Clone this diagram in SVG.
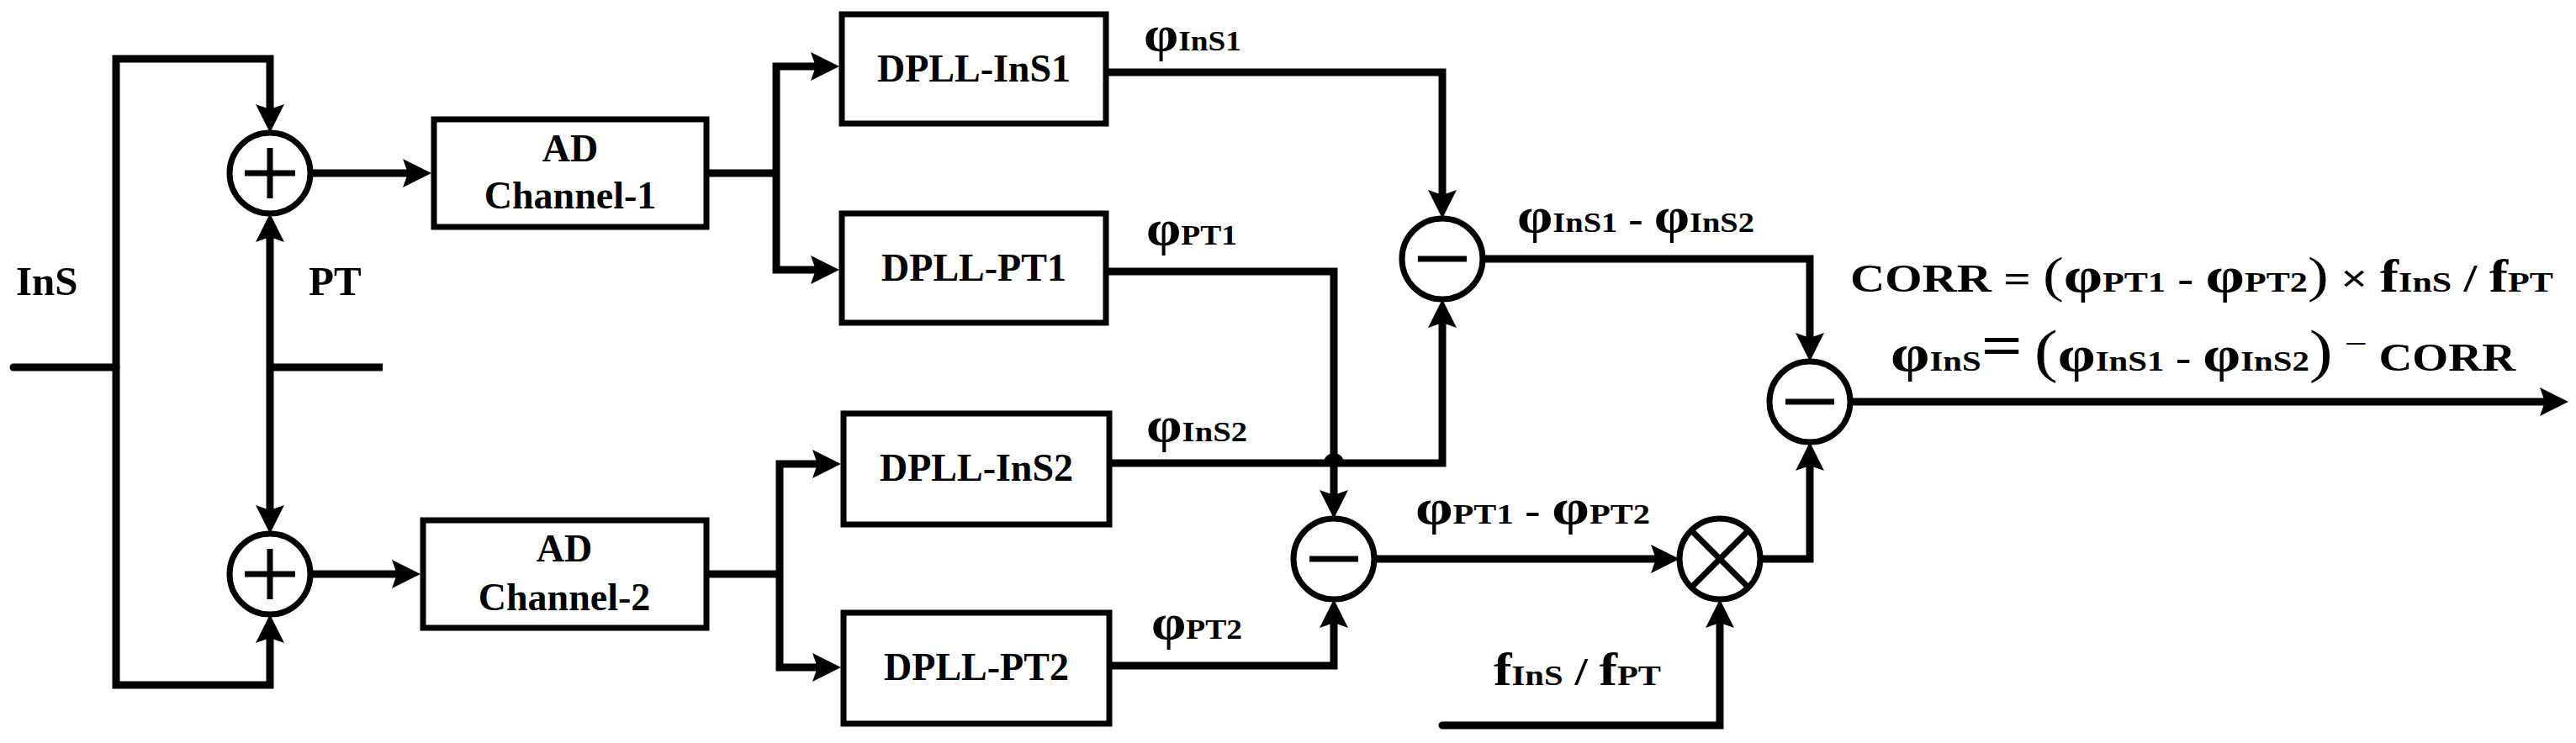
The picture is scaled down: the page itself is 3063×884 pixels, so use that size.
<svg xmlns="http://www.w3.org/2000/svg" width="3063" height="884" viewBox="0 0 3063 884">
<style>
.ln{fill:none;stroke:#000;stroke-width:9;stroke-linejoin:miter}
.ar{marker-end:url(#ah)}
.ar2{marker-start:url(#ah);marker-end:url(#ah)}
.box{fill:#fff;stroke:#000;stroke-width:7}
.sym{fill:#fff;stroke:#000;stroke-width:7}
.op{fill:none;stroke:#000;stroke-width:7}
text{font-family:'Liberation Serif','Times New Roman',serif;font-weight:bold;fill:#000}
.nl{font-size:46px;text-anchor:middle}
.lab{font-size:46px}
.phi{font-size:60px}
.sub{font-size:34px}
.f{font-size:54px}
.pn{font-weight:normal}
</style>
<defs>
<marker id="ah" viewBox="0 -20 40 40" refX="20" refY="0" markerWidth="40" markerHeight="40" markerUnits="userSpaceOnUse" orient="auto-start-reverse">
<path d="M0,-17 L34,0 L0,17 L6,0 Z" fill="#000"/>
</marker>
</defs>
<rect width="3063" height="884" fill="#fff"/>

<g id="nodes">
<g id="sum1"><circle class="sym" cx="321" cy="206" r="48"/><path class="op" d="M291,206 H351 M321,176 V236"/></g>
<g id="sum2"><circle class="sym" cx="321" cy="683" r="48"/><path class="op" d="M291,683 H351 M321,653 V713"/></g>
<g id="ad1"><rect class="box" x="516" y="142" width="324" height="128"/><text class="nl" x="678" y="192">AD</text><text class="nl" x="678" y="248">Channel-1</text></g>
<g id="ad2"><rect class="box" x="503" y="619" width="337" height="128"/><text class="nl" x="671" y="668">AD</text><text class="nl" x="671" y="726">Channel-2</text></g>
<g id="dpll-ins1"><rect class="box" x="1001" y="17" width="314" height="130"/><text class="nl" x="1158" y="97">DPLL-InS1</text></g>
<g id="dpll-pt1"><rect class="box" x="1001" y="254" width="314" height="130"/><text class="nl" x="1158" y="334">DPLL-PT1</text></g>
<g id="dpll-ins2"><rect class="box" x="1003" y="492" width="316" height="132"/><text class="nl" x="1161" y="572">DPLL-InS2</text></g>
<g id="dpll-pt2"><rect class="box" x="1003" y="729" width="316" height="132"/><text class="nl" x="1161" y="809">DPLL-PT2</text></g>
<g id="diff-ins"><circle class="sym" cx="1715" cy="308" r="48"/><path class="op" d="M1686,308 H1744"/></g>
<g id="diff-pt"><circle class="sym" cx="1586" cy="665" r="48"/><path class="op" d="M1557,665 H1615"/></g>
<g id="mult"><circle class="sym" cx="2045" cy="665" r="48"/><path class="op" d="M2012,632 L2078,698 M2078,632 L2012,698"/></g>
<g id="diff-out"><circle class="sym" cx="2152" cy="478" r="48"/><path class="op" d="M2123,478 H2181"/></g>
</g>

<g id="connectors">
<path class="ln" d="M16,437 H138" stroke-linecap="round"/>
<path class="ln" d="M455,437 H321"/>
<path class="ln ar2" d="M321,144 V70 H138 V815 H321 V745"/>
<path class="ln ar2" d="M321,268 V621"/>
<path class="ln ar" d="M369,206 H499"/>
<path class="ln ar" d="M369,683 H486"/>
<path class="ln" d="M840,206 H923"/>
<path class="ln ar2" d="M984,79 H923 V321 H984"/>
<path class="ln" d="M840,683 H927"/>
<path class="ln ar2" d="M986,552 H927 V794 H986"/>
<path class="ln ar" d="M1318,86 H1715 V246"/>
<path class="ln ar" d="M1318,323 H1586 V603"/>
<path class="ln ar" d="M1322,551 H1715 V370"/>
<path d="M1574,551 A12,12 0 0 1 1598,551 Z" fill="#000"/>
<path class="ln ar" d="M1322,792 H1586 V727"/>
<path class="ln ar" d="M1763,308 H2152 V416"/>
<path class="ln ar" d="M1634,665 H1983"/>
<path class="ln ar" d="M2093,665 H2152 V540"/>
<path class="ln ar" d="M1715,863 H2045 V727" stroke-linecap="round"/>
<path class="ln ar" d="M2200,478 H3040"/>
</g>

<g id="labels">
<text x="19" y="351" font-size="49">InS</text>
<text x="367" y="351" font-size="49">PT</text>
<text class="lab" x="1360" y="60" textLength="116" lengthAdjust="spacingAndGlyphs"><tspan class="phi">φ</tspan><tspan class="sub">InS1</tspan></text>
<text class="lab" x="1363" y="291" textLength="108" lengthAdjust="spacingAndGlyphs"><tspan class="phi">φ</tspan><tspan class="sub">PT1</tspan></text>
<text class="lab" x="1363" y="525" textLength="120" lengthAdjust="spacingAndGlyphs"><tspan class="phi">φ</tspan><tspan class="sub">InS2</tspan></text>
<text class="lab" x="1369" y="760" textLength="108" lengthAdjust="spacingAndGlyphs"><tspan class="phi">φ</tspan><tspan class="sub">PT2</tspan></text>
<text class="lab" x="1804" y="276" textLength="282" lengthAdjust="spacingAndGlyphs"><tspan class="phi">φ</tspan><tspan class="sub">InS1</tspan> - <tspan class="phi">φ</tspan><tspan class="sub">InS2</tspan></text>
<text class="lab" x="1683" y="623" textLength="279" lengthAdjust="spacingAndGlyphs"><tspan class="phi">φ</tspan><tspan class="sub">PT1</tspan> - <tspan class="phi">φ</tspan><tspan class="sub">PT2</tspan></text>
<text class="lab" x="1776" y="815" textLength="199" lengthAdjust="spacingAndGlyphs"><tspan class="f">f</tspan><tspan class="sub" font-size="38">InS</tspan> / <tspan class="f">f</tspan><tspan class="sub" font-size="38">PT</tspan></text>
<text class="lab" transform="translate(2200,347) scale(1.24,1)">CORR = <tspan class="pn" font-size="60">(</tspan><tspan class="phi" font-size="52">φ</tspan><tspan class="sub">PT1</tspan> - <tspan class="phi" font-size="52">φ</tspan><tspan class="sub">PT2</tspan><tspan class="pn" font-size="60">)</tspan> × <tspan class="f">f</tspan><tspan class="sub">InS</tspan> / <tspan class="f">f</tspan><tspan class="sub">PT</tspan></text>
<text class="lab" transform="translate(2248,441) scale(1.2,1)"><tspan font-size="62">φ</tspan><tspan class="sub" font-size="36">InS</tspan><tspan font-size="72" dy="-6">=</tspan><tspan dy="6"> </tspan><tspan class="pn" font-size="70">(</tspan><tspan class="phi" font-size="52">φ</tspan><tspan class="sub">InS1</tspan> - <tspan class="phi" font-size="52">φ</tspan><tspan class="sub">InS2</tspan><tspan class="pn" font-size="70">)</tspan> <tspan class="pn" font-size="40" dy="-19">−</tspan><tspan dy="19"> CORR</tspan></text>
</g>
</svg>
